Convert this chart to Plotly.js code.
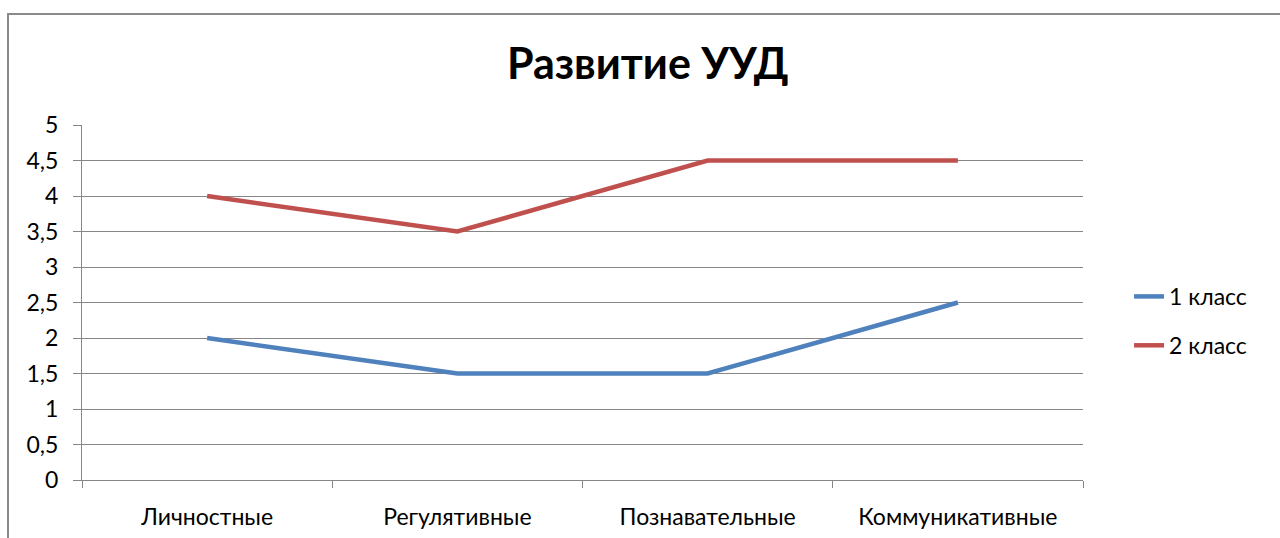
<!DOCTYPE html>
<html>
<head>
<meta charset="utf-8">
<script src="https://cdn.plot.ly/plotly-3.0.1.min.js"></script>
<style>
  html, body { margin: 0; padding: 0; background: #fff; }
  #wrap { position: relative; width: 1280px; height: 538px; overflow: hidden; }
  #chart { position: absolute; left: 0; top: 0; width: 1280px; height: 538px; }
  #frame { position: absolute; left: 7px; top: 13px; width: 1400px; height: 700px;
           border-left: 2px solid #8a8a8a; border-top: 2px solid #8a8a8a; pointer-events: none; }
</style>
</head>
<body>
<div id="wrap">
  <div id="chart"></div>
  <div id="frame"></div>
</div>
<script>
const categories = ["Личностные", "Регулятивные", "Познавательные", "Коммуникативные"];
const seriesNames = ["1 класс", "2 класс"];
const class1 = [2, 1.5, 1.5, 2.5];
const class2 = [4, 3.5, 4.5, 4.5];
const yTickVals = [0, 0.5, 1, 1.5, 2, 2.5, 3, 3.5, 4, 4.5, 5];
const yTickText = ["0", "0,5", "1", "1,5", "2", "2,5", "3", "3,5", "4", "4,5", "5"];

const FONT = "Lato, 'Open Sans', sans-serif";

const traces = [
  { x: categories, y: class1, name: seriesNames[0], type: "scatter", mode: "lines",
    legendgroup: "a", line: { color: "#4F81BD", width: 4.5 } },
  { x: categories, y: class2, name: seriesNames[1], type: "scatter", mode: "lines",
    legendgroup: "b", line: { color: "#C0504D", width: 4.5 } }
];

const layout = {
  width: 1280, height: 538,
  margin: { l: 82, r: 197, t: 125, b: 58 },
  paper_bgcolor: "rgba(0,0,0,0)",
  plot_bgcolor: "#fff",
  font: { family: FONT, size: 23, color: "#000" },
  title: { text: "<b>Развитие УУД</b>", font: { family: FONT, size: 43, color: "#000" },
           x: 0.506, xanchor: "center", y: 0.882, yanchor: "middle", yref: "container" },
  showlegend: true,
  legend: { x: 1.046, xanchor: "left", y: 0.448, yanchor: "middle",
            traceorder: "grouped", tracegroupgap: 16,
            font: { family: FONT, size: 23, color: "#000" },
            bgcolor: "rgba(0,0,0,0)" },
  xaxis: {
    type: "category", range: [-0.5, 3.5], tickson: "boundaries",
    ticks: "outside", ticklen: 7, tickcolor: "#868686", tickwidth: 1,
    showline: true, linecolor: "#868686", linewidth: 1,
    showgrid: false, zeroline: false, fixedrange: true,
    ticklabelstandoff: 16,
    tickfont: { family: FONT, size: 23, color: "#000" }
  },
  yaxis: {
    range: [0, 5], tickmode: "array", tickvals: yTickVals, ticktext: yTickText,
    ticks: "outside", ticklen: 8, tickcolor: "#868686", tickwidth: 1,
    showline: true, linecolor: "#868686", linewidth: 1,
    showgrid: true, gridcolor: "#868686", gridwidth: 1, zeroline: false,
    ticklabelstandoff: 10,
    tickfont: { family: FONT, size: 23, color: "#000" }
  }
};

Plotly.newPlot("chart", traces, layout, { staticPlot: true, displayModeBar: false });
</script>
</body>
</html>
